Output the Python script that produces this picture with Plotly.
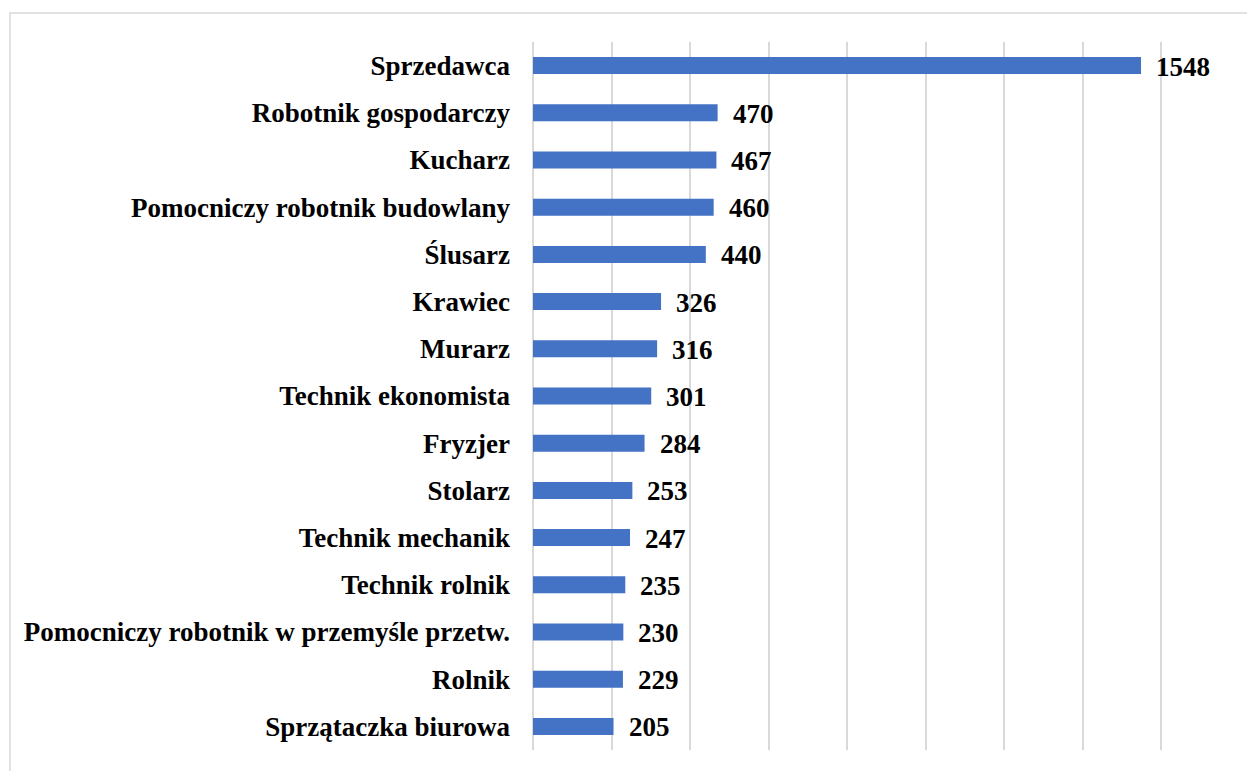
import plotly.graph_objects as go

categories = ["Sprzedawca", "Robotnik gospodarczy", "Kucharz", "Pomocniczy robotnik budowlany",
              "Ślusarz", "Krawiec", "Murarz", "Technik ekonomista", "Fryzjer", "Stolarz",
              "Technik mechanik", "Technik rolnik", "Pomocniczy robotnik w przemyśle przetw.",
              "Rolnik", "Sprzątaczka biurowa"]
values = [1548, 470, 467, 460, 440, 326, 316, 301, 284, 253, 247, 235, 230, 229, 205]

FONT = "Liberation Serif"

fig = go.Figure(go.Bar(
    x=values, y=categories, orientation="h",
    marker=dict(color="#4472C4", line=dict(width=0)),
    hoverinfo="x+y",
))

for c, v in zip(categories, values):
    fig.add_annotation(x=v, y=c, text=f"<b>{v}</b>", showarrow=False,
                       xanchor="left", yanchor="middle", xshift=13, yshift=-1,
                       font=dict(family=FONT, size=27, color="#000000"))

fig.update_layout(
    width=1247, height=763,
    margin=dict(l=525, r=15, t=34, b=21),
    paper_bgcolor="white", plot_bgcolor="white",
    bargap=0.64, showlegend=False,
    xaxis=dict(range=[0, 1800], dtick=200, showgrid=True, gridcolor="#d9d9d9", gridwidth=1.5,
               showticklabels=False, zeroline=True, zerolinecolor="#d9d9d9", zerolinewidth=1.5,
               showline=False, ticks=""),
    yaxis=dict(autorange="reversed", tickfont=dict(family=FONT, size=27, color="#000000"),
               showgrid=False, ticks="", ticklabelstandoff=22, showline=False),
    shapes=[dict(type="rect", xref="paper", yref="paper", x0=-0.7397, x1=2, y0=-1, y1=1.041,
                 line=dict(color="#d9d9d9", width=1.5), fillcolor="rgba(0,0,0,0)", layer="below")],
)
fig.update_yaxes(tickprefix="<b>", ticksuffix="</b>")

fig.write_html("out.html")
